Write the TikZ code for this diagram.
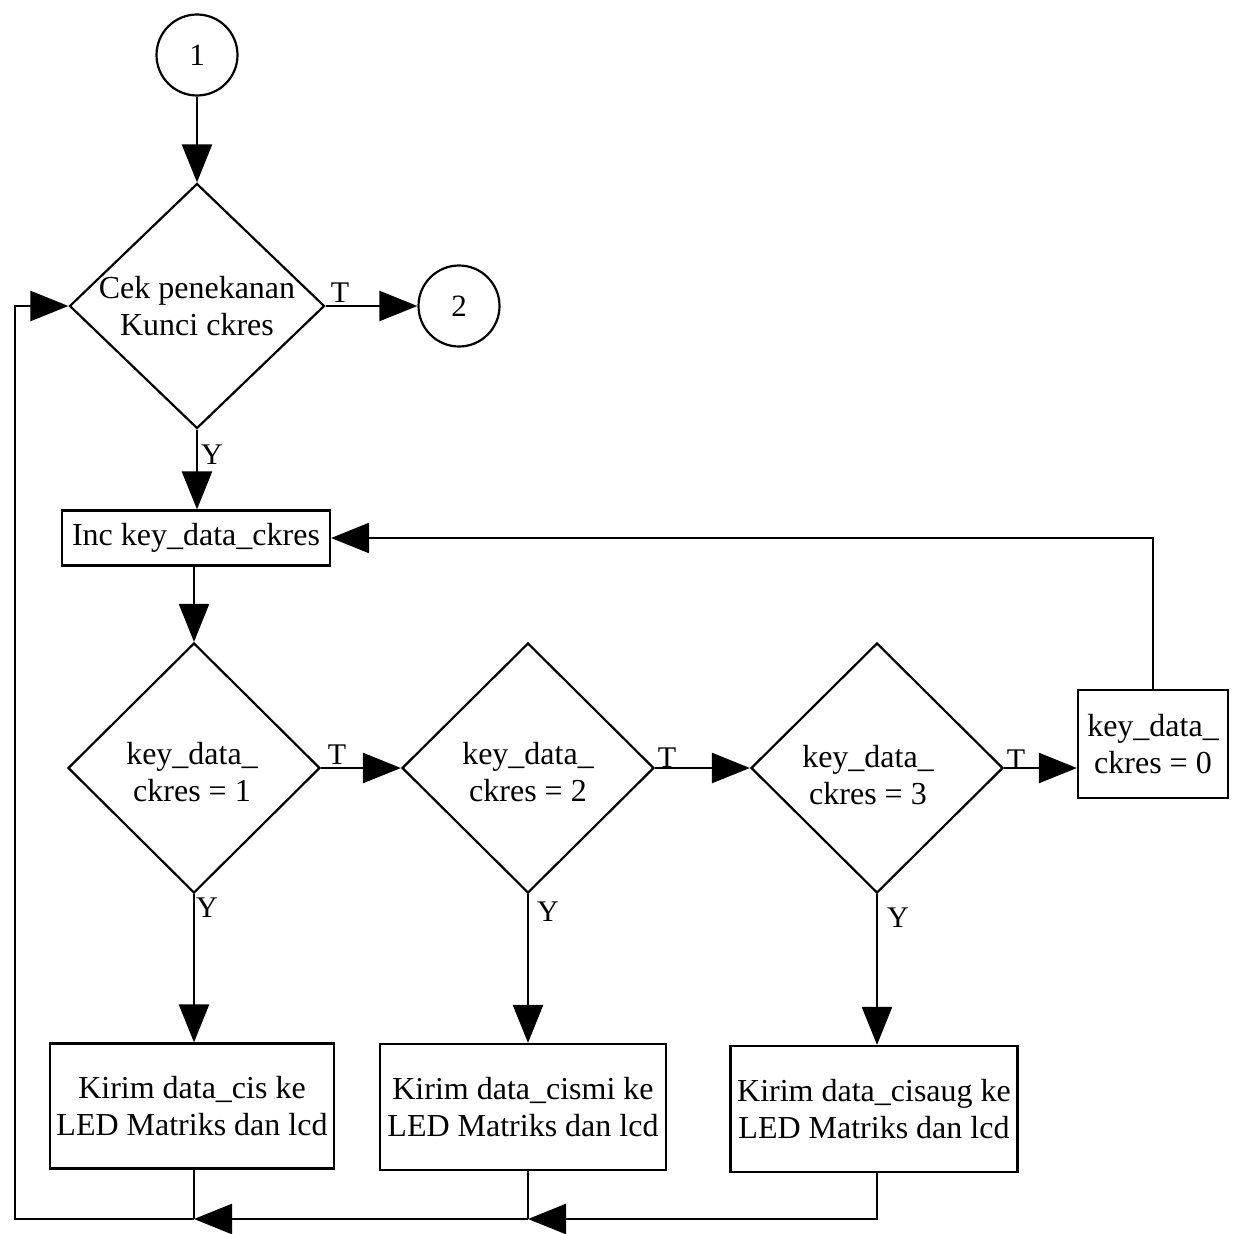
\documentclass[tikz,border=0pt]{standalone}
\usepackage{fontspec}
\setmainfont{Liberation Serif}
\usetikzlibrary{shapes.geometric,arrows.meta}
\begin{document}
\begin{tikzpicture}[x=1pt,y=-1pt,
  line width=2.5pt,
  base/.style={font=\fontsize{32}{37}\selectfont},
  flow/.style={-{Triangle[length=38pt,width=30pt]}},
  conn/.style={draw,circle,minimum size=81pt,inner sep=0pt,line width=2.2pt,font=\fontsize{31}{34}\selectfont},
  dec/.style={draw,diamond,inner sep=0pt,minimum width=252pt,minimum height=250pt,line width=2.2pt},
  proc/.style={draw,rectangle,inner sep=0pt,align=center,line width=2.2pt,base},
  txt/.style={align=center,base,inner sep=0pt},
  lbl/.style={font=\fontsize{30}{34}\selectfont,inner sep=0pt}]
\useasboundingbox (0,0) rectangle (1237,1234);

% connectors
\node[conn] (c1) at (197,55) {1};
\node[conn] (c2) at (459,306) {2};

% first decision
\node[dec,minimum width=255pt,minimum height=245pt] (d1) at (197,306) {};
\node[txt] (d1t) at (197,306) {Cek penekanan\\Kunci ckres};

% counter increment
\node[proc,minimum width=268pt,minimum height=55pt] (inc) at (196,538) {Inc key\_data\_ckres};

% value checks
\node[dec] (dA) at (194,768) {};
\node[txt] (dAt) at (192,772) {key\_data\_\\ckres = 1};
\node[dec] (dB) at (528,768) {};
\node[txt] (dBt) at (528,772) {key\_data\_\\ckres = 2};
\node[dec] (dC) at (877,768) {};
\node[txt] (dCt) at (868,775) {key\_data\_\\ckres = 3};

% reset box
\node[proc,minimum width=150pt,minimum height=108pt] (zero) at (1153,744) {key\_data\_\\ckres = 0};

% output boxes
\node[proc,minimum width=284pt,minimum height=125pt] (E) at (192,1106) {Kirim data\_cis ke\\LED Matriks dan lcd};
\node[proc,minimum width=286pt,minimum height=126pt] (F) at (523,1107) {Kirim data\_cismi ke\\LED Matriks dan lcd};
\node[proc,minimum width=287pt,minimum height=126pt] (G) at (874,1109) {Kirim data\_cisaug ke\\LED Matriks dan lcd};

% junction points on the return line
\coordinate (bot) at (0,1219);
\coordinate (jE) at (dA.south |- bot);
\coordinate (jF) at (dB.south |- bot);
\coordinate (jG) at (dC.south |- bot);
\coordinate (jL) at (15,1219);

% main flow
\draw[flow] (c1) -- (d1.north);
\draw[flow] (d1.east) -- (c2.west);
\draw[flow] (d1.south) -- (d1.south |- inc.north);
\draw[flow] (dA.north |- inc.south) -- (dA.north);
\draw[flow] (dA.east) -- (dB.west);
\draw[flow] (dB.east) -- (dC.west);
\draw[flow] (dC.east) -- (dC.east -| zero.west);
\draw[flow] (zero.north) |- (inc.east);

\draw[flow] (dA.south) -- (dA.south |- E.north);
\draw[flow] (dB.south) -- (dB.south |- F.north);
\draw[flow] (dC.south) -- (dC.south |- G.north);

% return path
\draw[flow] (G.south -| jG) -- (jG) -- (jF);
\draw (F.south -| jF) -- (jF);
\draw[flow] (jF) -- (jE);
\draw (E.south -| jE) -- (jE);
\draw[flow] (jE) -- (jL) -- (jL |- d1.west) -- (d1.west);

% branch labels
\node[lbl] (t1) at (340,293) {T};
\node[lbl] (y1) at (212,455) {Y};
\node[lbl] (tA) at (337,755) {T};
\node[lbl] (tB) at (667,758) {T};
\node[lbl] (tC) at (1016,760) {T};
\node[lbl] (yA) at (207,908) {Y};
\node[lbl] (yB) at (548,912) {Y};
\node[lbl] (yC) at (898,918) {Y};
\end{tikzpicture}
\end{document}
